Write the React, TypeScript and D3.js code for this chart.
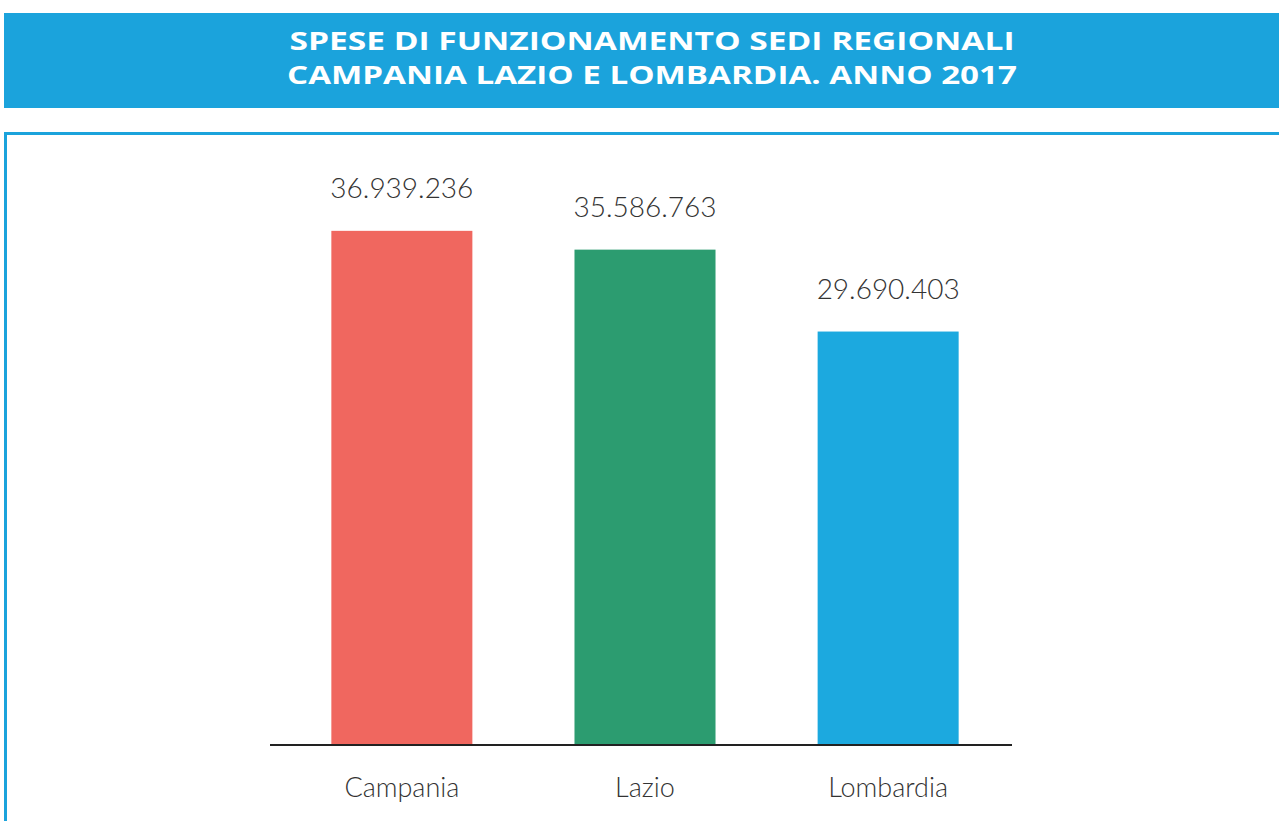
import { useEffect, useRef } from "react";
import * as d3 from "d3";

const regions = ["Campania", "Lazio", "Lombardia"];
const values = [36939236, 35586763, 29690403];
const valueLabels = ["36.939.236", "35.586.763", "29.690.403"];
const titleLines = ["SPESE DI FUNZIONAMENTO SEDI REGIONALI", "CAMPANIA LAZIO E LOMBARDIA. ANNO 2017"];
const barColors = ["#f0675f", "#2c9c70", "#1ca9df"];

const App = () => {
  const svgRef = useRef<SVGSVGElement | null>(null);
  const width = 1279;
  const height = 821;

  useEffect(() => {
    const svgElement = svgRef.current;
    if (!svgElement) return;
    document.body.style.margin = "0";

    const svg = d3.select(svgElement).attr("width", width).attr("height", height);
    svg.selectAll("*").remove();

    const blue = "#1ba3dc";

    // header band
    svg.append("rect")
      .attr("x", 4).attr("y", 13).attr("width", width - 4).attr("height", 95)
      .attr("fill", blue);

    svg.append("g")
      .selectAll("text")
      .data(titleLines)
      .join("text")
      .attr("x", 652)
      .attr("y", (d, i) => 50 + i * 34)
      .attr("text-anchor", "middle")
      .attr("fill", "#ffffff")
      .attr("font-family", "'Open Sans', sans-serif")
      .attr("font-weight", 700)
      .attr("font-size", 25)
      .attr("textLength", (d, i) => (i === 0 ? 725 : 730))
      .attr("lengthAdjust", "spacingAndGlyphs")
      .text((d) => d);

    // panel border
    svg.append("rect").attr("x", 4).attr("y", 132).attr("width", width - 4).attr("height", 3).attr("fill", blue);
    svg.append("rect").attr("x", 4).attr("y", 132).attr("width", 3).attr("height", height - 132).attr("fill", blue);

    const xScale = d3.scaleBand<string>()
      .domain(regions)
      .range([273, 1017])
      .paddingInner(0.42)
      .paddingOuter(0.24);

    const yScale = d3.scaleLinear()
      .domain([0, 37000000])
      .range([744, 230]);

    const data = regions.map((r, i) => ({ region: r, value: values[i], label: valueLabels[i], color: barColors[i] }));

    svg.append("g")
      .selectAll("rect")
      .data(data)
      .join("rect")
      .attr("x", (d) => xScale(d.region)!)
      .attr("y", (d) => yScale(d.value))
      .attr("width", xScale.bandwidth())
      .attr("height", (d) => yScale(0) - yScale(d.value))
      .attr("fill", (d) => d.color);

    // baseline
    svg.append("line")
      .attr("x1", 270).attr("x2", 1012)
      .attr("y1", yScale(0) + 1).attr("y2", yScale(0) + 1)
      .attr("stroke", "#222").attr("stroke-width", 2);

    // value labels
    svg.append("g")
      .selectAll("text")
      .data(data)
      .join("text")
      .attr("x", (d) => xScale(d.region)! + xScale.bandwidth() / 2)
      .attr("y", (d) => yScale(d.value) - 33)
      .attr("text-anchor", "middle")
      .attr("fill", "#333")
      .attr("font-family", "Lato, sans-serif")
      .attr("font-weight", 300)
      .attr("font-size", 28)
      .text((d) => d.label);

    // category labels
    svg.append("g")
      .selectAll("text")
      .data(data)
      .join("text")
      .attr("x", (d) => xScale(d.region)! + xScale.bandwidth() / 2)
      .attr("y", 797)
      .attr("text-anchor", "middle")
      .attr("fill", "#333")
      .attr("font-family", "Lato, sans-serif")
      .attr("font-weight", 300)
      .attr("font-size", 27)
      .text((d) => d.region);
  }, [width, height]);

  return <svg ref={svgRef} style={{ display: "block" }}></svg>;
};

export default App;
